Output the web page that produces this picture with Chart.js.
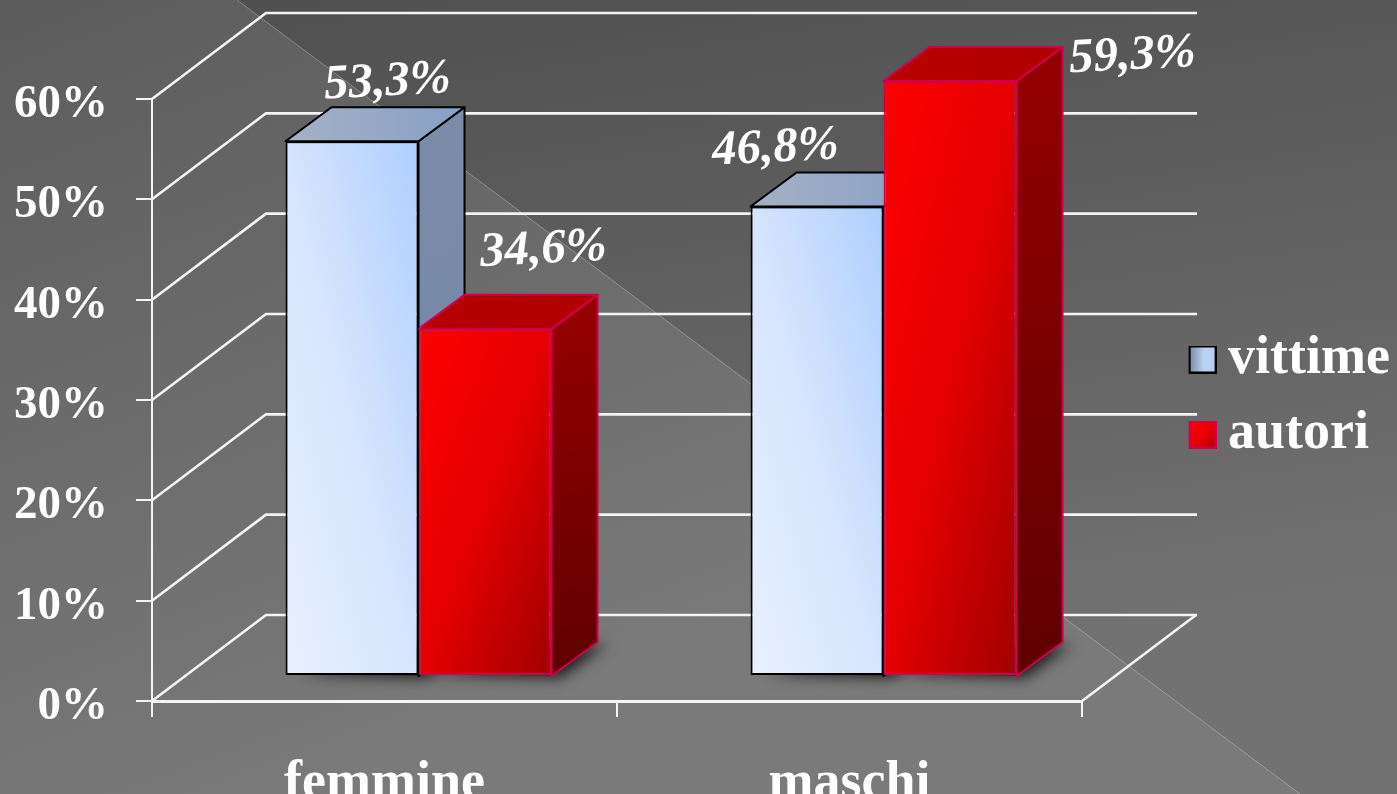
<!DOCTYPE html>
<html><head><meta charset="utf-8">
<style>html,body{margin:0;padding:0;background:#666;overflow:hidden}#w{width:1397px;height:794px;position:relative}</style>
<script src="https://cdn.jsdelivr.net/npm/chart.js@4"></script>
</head><body><div id="w"><canvas id="c" width="1397" height="794"></canvas></div>
<script>
const categories = ['femmine', 'maschi'];
const seriesNames = ['vittime', 'autori'];
const vittime = [53.3, 46.8];
const autori = [34.6, 59.3];
const yTicks = [0, 10, 20, 30, 40, 50, 60];

const SERIF = '"Liberation Serif", serif';
const BAR_DX = 34, BAR_DY = -25;          // bars stand inside the floor
const WALL_DX = 114, WALL_DY = -86;       // depth of the 3D box
const TOP_DX = 46, TOP_DY = -34;          // depth of each bar
const LABEL_OFFSET = [[[36,-46],[59,-66]],[[-41,-45],[183,-12]]];

const themes = [
  {front:['#e8f1ff','#d6e4fd','#aecfff'], top:['#a6b1c4','#86a0c8'], side:['#7a8ca8','#6f84a2'], edge:'#000'},
  {front:['#ff0000','#e40000','#a00000'], top:['#b80000','#b00000'], side:['#930000','#5f0000'], edge:'#d0004c'}
];
function legendIcon(di){
  const s = 28, off = 8, cv = document.createElement('canvas'); cv.width = s + off; cv.height = s;
  const c = cv.getContext('2d');
  const g = di === 0 ? c.createLinearGradient(off,0,off+s,0) : c.createLinearGradient(off,0,off+s,s);
  if (di === 0){ g.addColorStop(0,'#76859c'); g.addColorStop(.55,'#bcd3f5'); g.addColorStop(1,'#b4cdf2'); }
  else { g.addColorStop(0,'#ff0000'); g.addColorStop(.5,'#ee0000'); g.addColorStop(1,'#a80000'); }
  c.fillStyle = g; c.fillRect(off,0,s,s);
  c.strokeStyle = themes[di].edge; c.lineWidth = 2; c.strokeRect(off+1,1,s-2,s-2);
  return cv;
}
function barBox(chart, di, i){
  const x = chart.scales.x, y = chart.scales.y;
  const w = (x.getPixelForValue(1) - x.getPixelForValue(0)) * 0.572 / 2;
  const xc = x.getPixelForValue(i);
  const left = di === 0 ? xc - w : xc;
  return {left, right:left + w, top:y.getPixelForValue(chart.data.datasets[di].data[i]), bottom:y.getPixelForValue(0)};
}
function frontFill(ctx){
  const chart = ctx.chart, di = ctx.datasetIndex, t = themes[di], g = chart.ctx;
  if (ctx.type !== 'data' || !chart.scales.x || !chart.chartArea) return t.front[1];
  const b = barBox(chart, di, ctx.dataIndex), w = b.right - b.left, h = b.bottom - b.top;
  const k = 2*w*h/(w*w+h*h);
  let lg;
  if (di === 0) lg = g.createLinearGradient(b.left, b.bottom, b.left + h*k, b.bottom - w*k);
  else lg = g.createLinearGradient(b.left, b.top, b.left + h*k, b.top + w*k);
  lg.addColorStop(0, t.front[0]); lg.addColorStop(.5, t.front[1]); lg.addColorStop(1, t.front[2]);
  return lg;
}
const poly = (c, pts) => { c.beginPath(); pts.forEach((p,i)=> i ? c.lineTo(p[0],p[1]) : c.moveTo(p[0],p[1])); c.closePath(); };

const scene = {
  id:'scene',
  beforeDraw(chart){
    const c = chart.ctx, W = chart.width, H = chart.height;
    const g = c.createLinearGradient(0,0,300,H);
    g.addColorStop(0,'#5c5c5c'); g.addColorStop(1,'#7a7a7a');
    c.save();
    c.fillStyle = g; c.fillRect(0,0,W,H);
    const g2 = c.createLinearGradient(0,0,120,H);
    g2.addColorStop(0,'#4e4e4e'); g2.addColorStop(1,'#727272');
    c.fillStyle = g2; poly(c,[[237,0],[W,0],[W,H],[1300,H]]); c.fill();
    c.strokeStyle = 'rgba(255,255,255,.28)'; c.lineWidth = 1;
    c.beginPath(); c.moveTo(237,0); c.lineTo(1300,H); c.stroke();
    c.restore();
  },
  beforeDatasetsDraw(chart){
    const c = chart.ctx, y = chart.scales.y, x = chart.scales.x;
    const L = x.left, R = x.right;
    c.save();
    c.strokeStyle = '#f4f4f4'; c.lineWidth = 2.6; c.lineCap = 'butt'; c.lineJoin = 'miter';
    yTicks.forEach(v => {
      const p = y.getPixelForValue(v);
      c.beginPath(); c.moveTo(L,p); c.lineTo(L+WALL_DX,p+WALL_DY); c.lineTo(L+WALL_DX+(R-L)+1,p+WALL_DY); c.stroke();
    });
    const p0 = y.getPixelForValue(0);
    c.beginPath(); c.moveTo(R,p0); c.lineTo(R+WALL_DX,p0+WALL_DY); c.stroke();
    c.translate(BAR_DX, BAR_DY);
    themes.forEach((t,di) => {
      chart.data.datasets[di].data.forEach((_,i) => {
        const b = barBox(chart,di,i);
        // cast shadow on the floor
        c.save();
        c.shadowColor = 'rgba(0,0,0,.75)'; c.shadowBlur = 14; c.shadowOffsetX = 9; c.shadowOffsetY = 2;
        c.fillStyle = '#333';
        poly(c,[[b.left+6,b.bottom-4],[b.right,b.bottom],[b.right+TOP_DX,b.bottom+TOP_DY],[b.right,b.bottom-30]]); c.fill();
        c.restore();
      });
    });
    themes.forEach((t,di) => {
      chart.data.datasets[di].data.forEach((_,i) => {
        const b = barBox(chart,di,i);
        c.lineWidth = 2; c.strokeStyle = t.edge; c.lineJoin = 'round';
        let g = c.createLinearGradient(b.right,b.top,b.right+TOP_DX,b.bottom);
        g.addColorStop(0,t.side[0]); g.addColorStop(1,t.side[1]);
        c.fillStyle = g;
        poly(c,[[b.right,b.top],[b.right+TOP_DX,b.top+TOP_DY],[b.right+TOP_DX,b.bottom+TOP_DY],[b.right,b.bottom]]);
        c.fill(); c.stroke();
        g = c.createLinearGradient(b.left,b.top,b.right+TOP_DX,b.top);
        g.addColorStop(0,t.top[0]); g.addColorStop(1,t.top[1]);
        c.fillStyle = g;
        poly(c,[[b.left,b.top],[b.left+TOP_DX,b.top+TOP_DY],[b.right+TOP_DX,b.top+TOP_DY],[b.right,b.top]]);
        c.fill(); c.stroke();
      });
    });
  },
  afterDatasetsDraw(chart){
    const c = chart.ctx;
    c.restore();
    c.save();
    c.fillStyle = '#fff';
    c.font = 'italic bold 49px ' + SERIF;
    c.textAlign = 'center'; c.textBaseline = 'alphabetic';
    chart.data.datasets.forEach((ds,di) => ds.data.forEach((v,i) => {
      const el = chart.getDatasetMeta(di).data[i];
      const o = LABEL_OFFSET[i][di];
      c.save();
      c.translate(el.x + BAR_DX + o[0], el.y + BAR_DY + o[1]);
      c.rotate(-0.05);
      c.fillText(v.toFixed(1).replace('.',',') + '%', 0, 0);
      c.restore();
    }));
    c.restore();
  }
};

new Chart(document.getElementById('c'), {
  type:'bar',
  plugins:[scene],
  data:{
    labels:categories,
    datasets:[
      {label:seriesNames[0], data:vittime, backgroundColor:frontFill, borderColor:themes[0].edge, borderWidth:2, borderSkipped:false, clip:false},
      {label:seriesNames[1], data:autori, backgroundColor:frontFill, borderColor:themes[1].edge, borderWidth:2, borderSkipped:false, clip:false}
    ]
  },
  options:{
    responsive:false, animation:false,
    layout:{padding:{right:-3}},
    datasets:{bar:{categoryPercentage:0.572, barPercentage:1}},
    plugins:{
      tooltip:{enabled:false},
      legend:{
        position:'right', align:'center',
        labels:{color:'#fff', usePointStyle:true, boxWidth:5, boxHeight:5, pointStyleWidth:5, padding:21,
          font:{family:SERIF, weight:'bold', size:54},
          generateLabels(chart){
            return Chart.defaults.plugins.legend.labels.generateLabels(chart).map((it,i) => {
              it.pointStyle = legendIcon(i); return it;
            });
          }}
      }
    },
    scales:{
      x:{
        grid:{drawOnChartArea:false, color:'#f4f4f4', lineWidth:2, tickLength:16, drawTicks:true},
        border:{color:'#f4f4f4', width:3},
        ticks:{color:'#fff', padding:35, font:{family:SERIF, weight:'bold', size:54}, maxRotation:0, autoSkip:false},
        afterFit(s){ s.height = 93; }
      },
      y:{
        min:0, max:60,
        grid:{drawOnChartArea:false, color:'#f4f4f4', lineWidth:2, tickLength:16, drawTicks:true},
        border:{color:'#f4f4f4', width:2},
        ticks:{color:'#fff', stepSize:10, padding:28, labelOffset:6, font:{family:SERIF, weight:'bold', size:47},
          callback:v => v + '%'},
        afterFit(s){ s.width = 152; }
      },
      gap:{
        type:'linear', position:'right', display:true,
        grid:{display:false}, border:{display:false}, ticks:{display:false},
        afterFit(s){ s.width = 93; }
      },
      headroom:{
        type:'linear', axis:'x', position:'top', display:true,
        grid:{display:false}, border:{display:false}, ticks:{display:false},
        afterFit(s){ s.height = 99; }
      }
    }
  }
});
</script></body></html>
